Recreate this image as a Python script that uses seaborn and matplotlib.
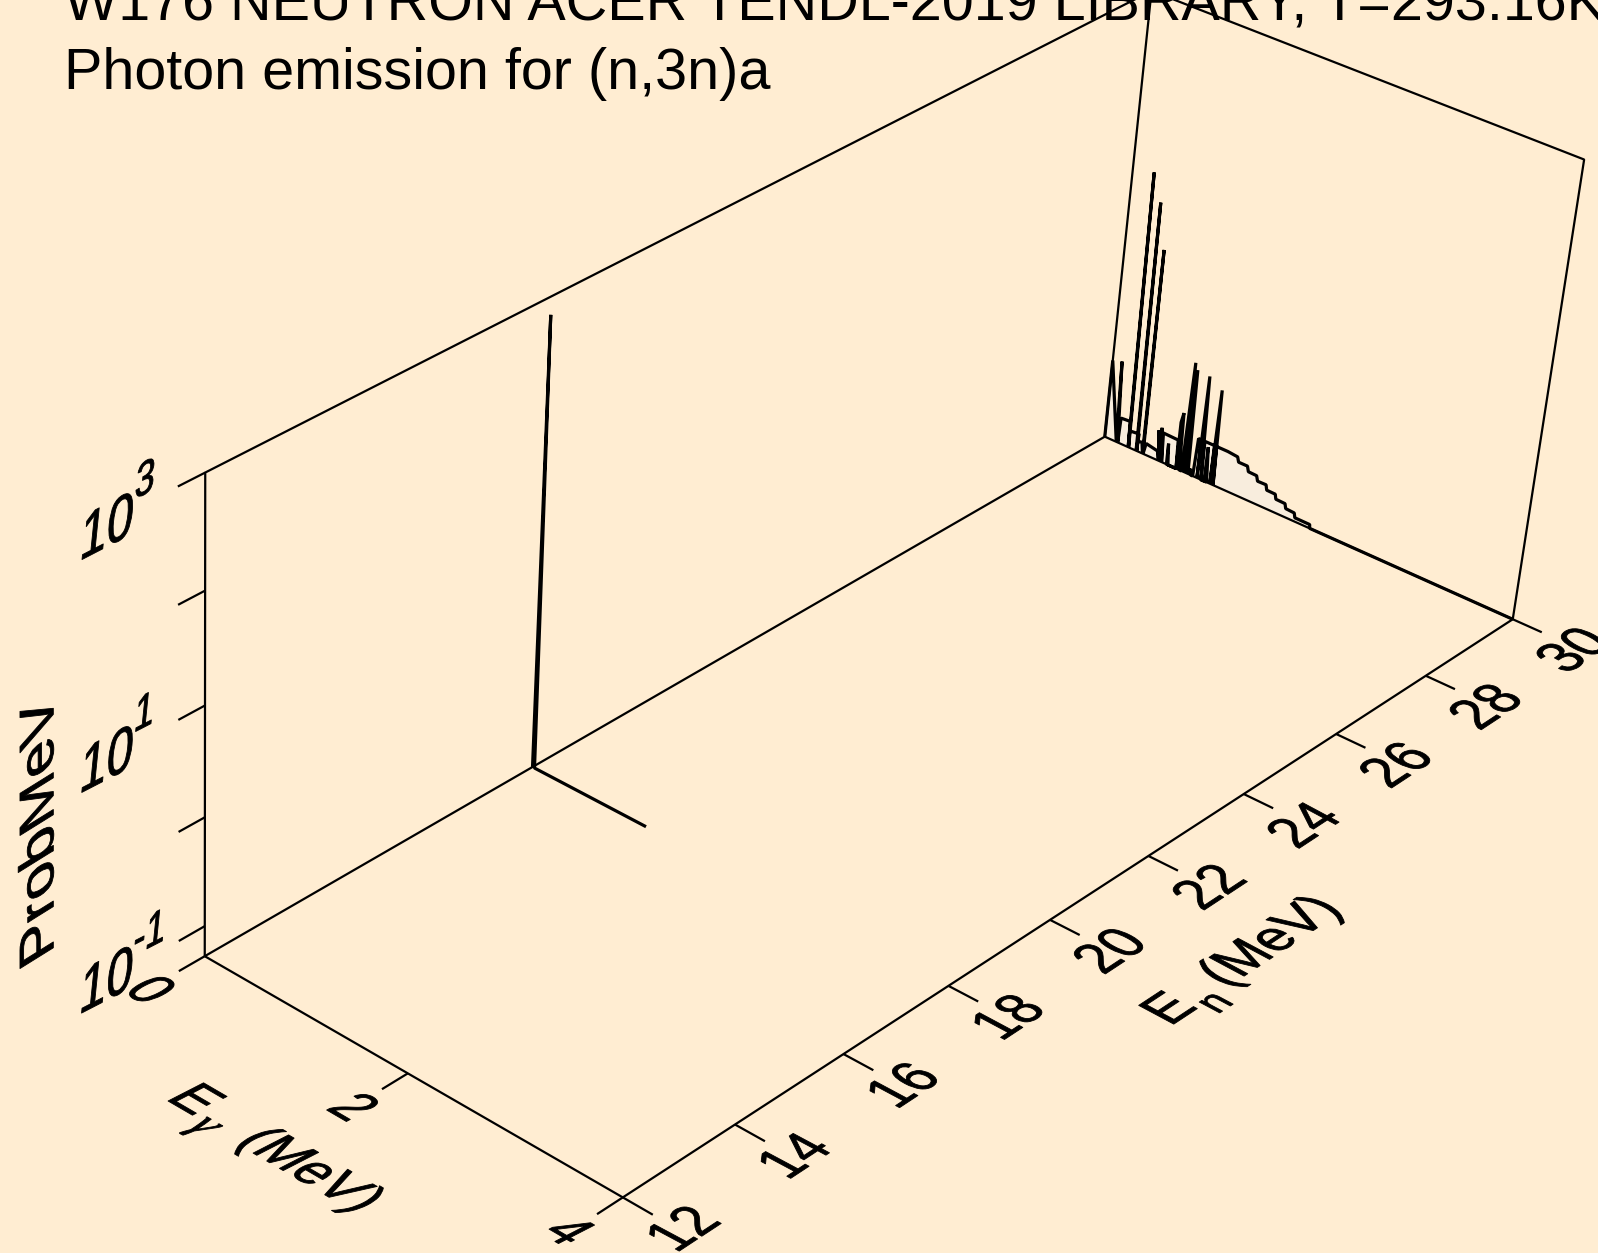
import numpy as np
import pandas as pd
import matplotlib
matplotlib.use("Agg")
import matplotlib.pyplot as plt
import seaborn as sns
from matplotlib.patheffects import AbstractPathEffect
from matplotlib.transforms import Affine2D

BG = "#FFEDD2"
FILL = "#F8EDDD"
W, H = 1598, 1253

TITLE_1 = "W176 NEUTRON ACER TENDL-2019 LIBRARY, T=293.16K"
TITLE_2 = "Photon emission for (n,3n)a"

EN_TICKS = [12, 14, 16, 18, 20, 22, 24, 26, 28, 30]
EG_TICKS = [0, 2, 4]
LOGZ_TICKS = [-1, 0, 1, 2, 3]
LOGZ_LABELS = {-1: "-1", 1: "1", 3: "3"}
LOGZ_MIN, LOGZ_MAX = -1.281, 3.0

# spectrum at En=18
EG_18 = [0.0, 0.0, 0.02, 1.135]
LOG_18 = [-1.281, 2.84, -1.281, -1.281]

# spectrum at En=30
EG_30 = [0.0, 0.0, 0.118, 0.092, 0.133, 0.1405, 0.234, 0.24, 0.207, 0.245, 0.238,
         0.334, 0.321, 0.300, 0.328, 0.330, 0.37, 0.386, 0.381, 0.392, 0.412,
         0.529, 0.548, 0.522, 0.553, 0.550, 0.581, 0.568, 0.718, 0.727, 0.645,
         0.629, 0.630, 0.727, 0.726, 0.744, 0.759, 0.782, 0.802, 0.815, 0.829,
         0.847, 0.862, 0.875, 0.895, 0.911, 0.938, 0.938, 0.95, 0.977, 1.009,
         1.013, 1.035, 0.977, 0.975, 1.07, 1.068, 1.082, 1.10, 1.09, 1.204,
         1.302, 1.317, 1.405, 1.42, 1.502, 1.517, 1.601, 1.613, 1.698, 1.709,
         1.80, 1.812, 1.897, 1.908, 2.054, 2.058, 4.0]
LOG_30 = [-1.281, -0.518, -1.281, -0.49, -1.281, -1.033, -1.025, -1.281, 1.39, -1.281, -1.118,
          -1.108, -1.281, 1.14, -1.281, -1.183, -1.175, -1.281, 0.72, -1.281, -1.169,
          -1.192, -1.281, -0.988, -1.281, -0.951, -1.281, -0.995, -1.0, -1.281, -1.281,
          -1.075, -1.281, -1.281, -0.82, -0.72, -1.281, -1.281, -0.20, -1.281, -0.26,
          -1.281, -1.22, -1.281, -1.281, -0.899, -0.905, -1.281, -0.27, -1.281, -1.281,
          -0.94, -1.281, -1.281, -0.90, -0.90, -1.281, -0.35, -1.281, -0.90, -0.90,
          -0.91, -0.956, -0.956, -1.005, -1.008, -1.056, -1.054, -1.102, -1.104, -1.149,
          -1.152, -1.196, -1.201, -1.244, -1.245, -1.281, -1.281]

# where the box corners land on the canvas: (En, Eg, log10 z) -> pixel
BOX_WORLD = [(12, 0, LOGZ_MIN), (12, 4, LOGZ_MIN), (30, 4, LOGZ_MIN), (30, 0, LOGZ_MIN),
             (12, 0, LOGZ_MAX), (30, 4, LOGZ_MAX), (30, 0, LOGZ_MAX)]
BOX_PIXEL = [(204.8, 955.5), (623.2, 1197.7), (1513.5, 619.5), (1103.7, 436.8),
             (204.8, 473.0), (1583.0, 159.0), (1153.0, -9.0)]


def fit_camera(world, pixel):
    rows, rhs = [], []
    for (a, b, c), (u, v) in zip(world, pixel):
        rows.append([a, b, c, 1, 0, 0, 0, 0, -u * a, -u * b, -u * c])
        rows.append([0, 0, 0, 0, a, b, c, 1, -v * a, -v * b, -v * c])
        rhs += [u, v]
    p = np.linalg.lstsq(np.array(rows, float), np.array(rhs, float), rcond=None)[0]
    return np.append(p, 1.0).reshape(3, 4)


CAM = fit_camera(BOX_WORLD, BOX_PIXEL)


def project(en, eg, lz):
    en, eg, lz = np.broadcast_arrays(np.asarray(en, float), np.asarray(eg, float), np.asarray(lz, float))
    q = CAM @ np.vstack([en.ravel(), eg.ravel(), lz.ravel(), np.ones(en.size)])
    return q[0] / q[2], q[1] / q[2]


class SkewText(AbstractPathEffect):
    # keeps the Text real but draws it on the skewed plane of its axis
    def __init__(self, u, v):
        super().__init__()
        self.m = Affine2D.from_values(u[0], -u[1], v[0], -v[1], 0, 0)

    def draw_path(self, renderer, gc, tpath, affine, rgbFace=None):
        box = tpath.get_extents(affine)
        ox, oy = affine.transform((0, 0))
        t = (affine + Affine2D().translate(-(box.x0 + box.x1) / 2, -(box.y0 + box.y1) / 2)
             + self.m + Affine2D().translate(ox, oy))
        gc.set_linewidth(0.6)
        renderer.draw_path(gc, tpath, t, rgbFace)


def skew_label(ax, x, y, s, u, v, em_x, em_y, **kw):
    vv = (v[0] * em_y / em_x, v[1] * em_y / em_x)
    ax.text(x, y, s, fontsize=em_x * 0.72, ha="left", va="baseline", color="black", clip_on=False,
            zorder=5, path_effects=[SkewText(u, vv)], **kw)


def draw_line(ax, en, eg, lz, lw, zorder=3):
    xs, ys = project(en, eg, lz)
    df = pd.DataFrame({"x": xs, "y": ys})
    sns.lineplot(data=df, x="x", y="y", sort=False, estimator=None, color="black", linewidth=lw,
                 solid_joinstyle="bevel", solid_capstyle="butt", ax=ax, zorder=zorder)


sns.set_theme(style="white")
plt.rcParams["font.family"] = ["Liberation Sans", "DejaVu Sans"]

fig = plt.figure(figsize=(W / 100, H / 100), dpi=100, facecolor=BG)
ax = fig.add_axes([0, 0, 1, 1])
ax.set_axis_off()

ax.text(64, 20.5, TITLE_1, fontsize=41.4, ha="left", va="baseline", color="black", zorder=1)
ax.text(64, 89, TITLE_2, fontsize=41.4, ha="left", va="baseline", color="black", zorder=1)

# box
FRAME_LW = 1.6
DATA_LW = 2.3
draw_line(ax, [12, 12, 30, 30, 12], [0, 4, 4, 0, 0], [LOGZ_MIN] * 5, FRAME_LW)
draw_line(ax, [12, 12, 30, 30], [0, 0, 0, 0], [LOGZ_MIN, LOGZ_MAX, LOGZ_MAX, LOGZ_MIN], FRAME_LW)
draw_line(ax, [30, 30, 30], [0, 4, 4], [LOGZ_MAX, LOGZ_MAX, LOGZ_MIN], FRAME_LW)

# ticks
for en in EN_TICKS:
    draw_line(ax, [en, en], [4, 4.27], [LOGZ_MIN, LOGZ_MIN], FRAME_LW)
for eg in EG_TICKS:
    draw_line(ax, [12, 11.55], [eg, eg], [LOGZ_MIN, LOGZ_MIN], FRAME_LW)
for lz in LOGZ_TICKS:
    draw_line(ax, [12, 11.55], [0, 0], [lz, lz], FRAME_LW)

# data
fx, fy = project(30, EG_30, LOG_30)
ax.fill(fx, fy, color=FILL, lw=0, zorder=2)
draw_line(ax, 30, EG_30, LOG_30, DATA_LW, zorder=4)
draw_line(ax, 18, EG_18, LOG_18, DATA_LW, zorder=4)

# tick labels
U_EN, V_EN = (0.835, -0.55), (-0.88, -0.47)
U_EG, V_EG = (0.865, 0.503), (0.89, -0.456)
U_Z, V_Z = (0.89, -0.46), (0.10, -0.995)
for en in EN_TICKS:
    x, y = project(en, 4, LOGZ_MIN)
    skew_label(ax, x[0] + 59, y[0] + 30, str(en), U_EN, V_EN, 51, 60)
for eg in EG_TICKS:
    x, y = project(12, eg, LOGZ_MIN)
    skew_label(ax, x[0] - 53, y[0] + 33, str(eg), U_EG, V_EG, 50, 59)
for lz, exp in LOGZ_LABELS.items():
    x, y = project(12, 0, lz)
    skew_label(ax, x[0] - 97, y[0] + 52, "10", U_Z, V_Z, 54, 66)
    skew_label(ax, x[0] - 60 + (5 if lz < 0 else 0), y[0] + 5, exp, U_Z, V_Z, 40, 50)

# axis labels, pieces placed apart like the subscripts in the reference
skew_label(ax, 1168, 1007, "E", U_EN, V_EN, 52, 58)
skew_label(ax, 1216, 1003, "n", U_EN, V_EN, 38, 44)
skew_label(ax, 1272, 942, "(MeV)", U_EN, V_EN, 52, 58)
skew_label(ax, 198, 1099, "E", U_EG, V_EG, 52, 58)
skew_label(ax, 200, 1129, "\u03b3", U_EG, V_EG, 46, 50, family="Liberation Serif", style="italic")
skew_label(ax, 309, 1171, "(MeV)", U_EG, V_EG, 52, 58)
skew_label(ax, 36, 830, "ProbMeV", (0.0, -1.0), (-0.85, 0.53), 63, 57)

ax.set_xlim(0, W)
ax.set_ylim(H, 0)
ax.set_xlabel("")
ax.set_ylabel("")
fig.savefig("out.png", dpi=100, facecolor=BG)
